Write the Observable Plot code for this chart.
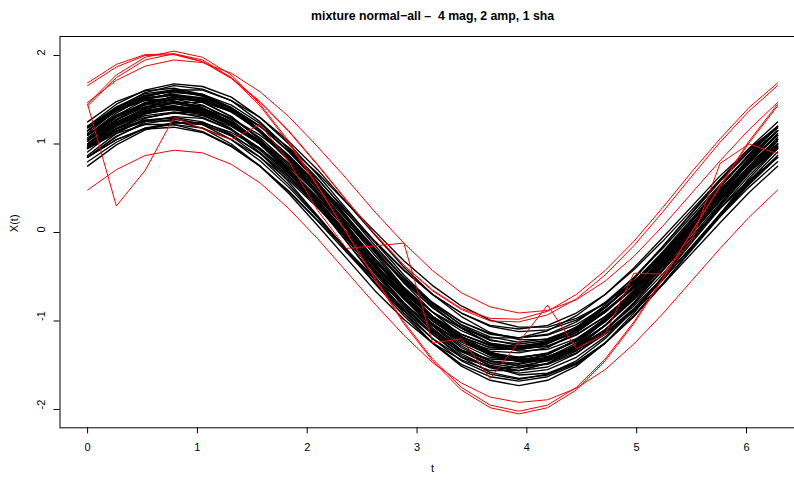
<!DOCTYPE html>
<html><head><meta charset="utf-8">
<script src="https://cdn.jsdelivr.net/npm/d3@7"></script>
<script src="https://cdn.jsdelivr.net/npm/@observablehq/plot@0.6"></script>
<style>html,body{margin:0;padding:0;overflow:hidden;background:#fff;width:794px;height:481px}#chart{width:794px;height:481px;overflow:hidden}#chart svg{max-width:none !important}</style>
</head><body><div id="chart"></div>
<script>
const titleText = "mixture normal\u2212all \u2013  4 mag, 2 amp, 1 sha";
const axisLabelX = "t";
const axisLabelY = "X(t)";
const xTicks = [0, 1, 2, 3, 4, 5, 6];
const yTicks = [-2, -1, 0, 1, 2];
const yTickLabels = ["-2", "-1", "0", "1", "2"];
const tValues = [0, 0.2618, 0.5236, 0.7854, 1.0472, 1.3090, 1.5708, 1.8326, 2.0944, 2.3562, 2.6180, 2.8798, 3.1416, 3.4034, 3.6652, 3.9270, 4.1888, 4.4506, 4.7124, 4.9742, 5.2360, 5.4978, 5.7596, 6.0214, 6.2832];

const normalCurves = [
[1.00,1.22,1.37,1.41,1.37,1.22,1.00,0.71,0.37,0.00,-0.37,-0.71,-1.00,-1.22,-1.37,-1.41,-1.37,-1.22,-1.00,-0.71,-0.37,0.00,0.37,0.71,1.00],
[1.05,1.30,1.46,1.53,1.50,1.38,1.15,0.85,0.50,0.12,-0.26,-0.63,-0.95,-1.20,-1.36,-1.43,-1.40,-1.28,-1.05,-0.75,-0.40,-0.02,0.36,0.73,1.05],
[1.05,1.25,1.37,1.39,1.33,1.17,0.95,0.66,0.33,-0.02,-0.37,-0.68,-0.95,-1.15,-1.27,-1.29,-1.23,-1.07,-0.85,-0.56,-0.23,0.12,0.47,0.78,1.05],
[1.00,1.25,1.40,1.46,1.40,1.25,1.00,0.68,0.30,-0.10,-0.50,-0.88,-1.20,-1.45,-1.60,-1.66,-1.60,-1.45,-1.20,-0.88,-0.50,-0.10,0.30,0.68,1.00],
[1.00,1.21,1.36,1.42,1.40,1.29,1.10,0.85,0.55,0.22,-0.11,-0.43,-0.70,-0.91,-1.06,-1.12,-1.10,-0.99,-0.80,-0.55,-0.25,0.08,0.41,0.73,1.00],
[1.25,1.48,1.60,1.63,1.56,1.40,1.15,0.83,0.46,0.08,-0.30,-0.65,-0.95,-1.18,-1.30,-1.33,-1.26,-1.10,-0.85,-0.53,-0.16,0.22,0.60,0.95,1.25],
[0.75,0.99,1.16,1.24,1.24,1.13,0.95,0.69,0.39,0.04,-0.31,-0.65,-0.95,-1.19,-1.36,-1.44,-1.44,-1.33,-1.15,-0.89,-0.59,-0.24,0.11,0.45,0.75],
[1.15,1.41,1.58,1.66,1.62,1.49,1.25,0.94,0.57,0.17,-0.23,-0.62,-0.95,-1.21,-1.38,-1.46,-1.42,-1.29,-1.05,-0.74,-0.37,0.03,0.43,0.82,1.15],
[0.95,1.12,1.22,1.22,1.14,0.98,0.75,0.47,0.14,-0.19,-0.52,-0.81,-1.05,-1.22,-1.32,-1.32,-1.24,-1.08,-0.85,-0.57,-0.24,0.09,0.42,0.71,0.95],
[1.10,1.35,1.53,1.61,1.61,1.49,1.30,1.03,0.71,0.34,-0.03,-0.39,-0.70,-0.95,-1.13,-1.21,-1.21,-1.09,-0.90,-0.63,-0.31,0.06,0.43,0.79,1.10],
[0.95,1.14,1.26,1.26,1.18,1.00,0.75,0.44,0.08,-0.29,-0.66,-0.98,-1.25,-1.44,-1.56,-1.56,-1.48,-1.30,-1.05,-0.74,-0.38,-0.01,0.36,0.68,0.95],
[0.85,1.09,1.23,1.28,1.23,1.09,0.85,0.54,0.18,-0.20,-0.58,-0.94,-1.25,-1.49,-1.63,-1.68,-1.63,-1.49,-1.25,-0.94,-0.58,-0.20,0.18,0.54,0.85],
[1.20,1.41,1.55,1.59,1.55,1.41,1.20,0.92,0.60,0.25,-0.10,-0.42,-0.70,-0.91,-1.05,-1.09,-1.05,-0.91,-0.70,-0.42,-0.10,0.25,0.60,0.92,1.20],
[1.15,1.39,1.52,1.56,1.48,1.31,1.05,0.72,0.33,-0.07,-0.47,-0.84,-1.15,-1.39,-1.52,-1.56,-1.48,-1.31,-1.05,-0.72,-0.33,0.07,0.47,0.84,1.15],
[0.85,1.05,1.18,1.22,1.18,1.05,0.85,0.59,0.28,-0.05,-0.38,-0.69,-0.95,-1.15,-1.28,-1.32,-1.28,-1.15,-0.95,-0.69,-0.38,-0.05,0.28,0.59,0.85],
[1.05,1.28,1.45,1.51,1.49,1.36,1.15,0.87,0.54,0.17,-0.20,-0.55,-0.85,-1.08,-1.25,-1.31,-1.29,-1.16,-0.95,-0.67,-0.34,0.03,0.40,0.75,1.05],
[1.10,1.31,1.42,1.43,1.34,1.17,0.90,0.57,0.19,-0.19,-0.57,-0.91,-1.20,-1.41,-1.52,-1.53,-1.44,-1.27,-1.00,-0.67,-0.29,0.09,0.47,0.81,1.10],
[0.80,1.02,1.18,1.24,1.22,1.10,0.90,0.63,0.32,-0.03,-0.38,-0.71,-1.00,-1.22,-1.38,-1.44,-1.42,-1.30,-1.10,-0.83,-0.52,-0.17,0.18,0.51,0.80],
[0.95,1.23,1.41,1.51,1.49,1.37,1.15,0.85,0.49,0.09,-0.31,-0.71,-1.05,-1.33,-1.51,-1.61,-1.59,-1.47,-1.25,-0.95,-0.59,-0.19,0.21,0.61,0.95],
[1.10,1.31,1.44,1.46,1.40,1.23,1.00,0.70,0.35,-0.02,-0.39,-0.72,-1.00,-1.21,-1.34,-1.36,-1.30,-1.13,-0.90,-0.60,-0.25,0.12,0.49,0.82,1.10],
[1.00,1.23,1.39,1.47,1.47,1.37,1.20,0.96,0.67,0.34,0.01,-0.32,-0.60,-0.83,-0.99,-1.07,-1.07,-0.97,-0.80,-0.56,-0.27,0.06,0.39,0.72,1.00],
[1.05,1.31,1.47,1.53,1.47,1.31,1.05,0.71,0.32,-0.10,-0.52,-0.91,-1.25,-1.51,-1.67,-1.73,-1.67,-1.51,-1.25,-0.91,-0.52,-0.10,0.32,0.71,1.05],
[1.20,1.45,1.61,1.68,1.65,1.53,1.30,1.00,0.65,0.27,-0.11,-0.48,-0.80,-1.05,-1.21,-1.28,-1.25,-1.13,-0.90,-0.60,-0.25,0.13,0.51,0.88,1.20],
[0.85,1.05,1.17,1.19,1.13,0.97,0.75,0.46,0.13,-0.22,-0.57,-0.88,-1.15,-1.35,-1.47,-1.49,-1.43,-1.27,-1.05,-0.76,-0.43,-0.08,0.27,0.58,0.85],
[1.15,1.37,1.52,1.56,1.52,1.37,1.15,0.86,0.52,0.15,-0.22,-0.56,-0.85,-1.07,-1.22,-1.26,-1.22,-1.07,-0.85,-0.56,-0.22,0.15,0.52,0.86,1.15],
[1.00,1.24,1.38,1.43,1.38,1.24,1.00,0.69,0.33,-0.05,-0.43,-0.79,-1.10,-1.34,-1.48,-1.53,-1.48,-1.34,-1.10,-0.79,-0.43,-0.05,0.33,0.69,1.00],
[1.00,1.21,1.35,1.39,1.35,1.21,1.00,0.72,0.40,0.05,-0.30,-0.62,-0.90,-1.11,-1.25,-1.29,-1.25,-1.11,-0.90,-0.62,-0.30,0.05,0.40,0.72,1.00],
[1.15,1.40,1.55,1.61,1.55,1.40,1.15,0.83,0.45,0.05,-0.35,-0.73,-1.05,-1.30,-1.45,-1.51,-1.45,-1.30,-1.05,-0.73,-0.35,0.05,0.45,0.83,1.15],
[0.85,1.08,1.25,1.31,1.29,1.16,0.95,0.67,0.34,-0.03,-0.40,-0.75,-1.05,-1.28,-1.45,-1.51,-1.49,-1.36,-1.15,-0.87,-0.54,-0.17,0.20,0.55,0.85],
[1.10,1.33,1.45,1.48,1.41,1.25,1.00,0.68,0.31,-0.07,-0.45,-0.80,-1.10,-1.33,-1.45,-1.48,-1.41,-1.25,-1.00,-0.68,-0.31,0.07,0.45,0.80,1.10],
[1.03,1.27,1.42,1.47,1.43,1.29,1.07,0.78,0.43,0.06,-0.32,-0.67,-0.97,-1.21,-1.36,-1.41,-1.37,-1.23,-1.01,-0.72,-0.37,0.00,0.38,0.73,1.03],
[0.97,1.18,1.32,1.36,1.30,1.16,0.93,0.64,0.30,-0.06,-0.42,-0.75,-1.03,-1.24,-1.38,-1.42,-1.36,-1.22,-0.99,-0.70,-0.36,0.00,0.36,0.69,0.97],
[1.07,1.32,1.50,1.58,1.56,1.44,1.23,0.95,0.61,0.23,-0.15,-0.51,-0.83,-1.08,-1.26,-1.34,-1.32,-1.20,-0.99,-0.71,-0.37,0.01,0.39,0.75,1.07],
[0.97,1.17,1.27,1.29,1.22,1.05,0.81,0.51,0.17,-0.19,-0.54,-0.86,-1.13,-1.33,-1.43,-1.45,-1.38,-1.21,-0.97,-0.67,-0.33,0.03,0.38,0.70,0.97],
[1.19,1.42,1.57,1.61,1.54,1.38,1.13,0.81,0.43,0.04,-0.36,-0.72,-1.03,-1.26,-1.41,-1.45,-1.38,-1.22,-0.97,-0.65,-0.27,0.12,0.52,0.88,1.19],
[0.98,1.20,1.34,1.40,1.36,1.24,1.04,0.78,0.46,0.12,-0.22,-0.54,-0.82,-1.04,-1.18,-1.24,-1.20,-1.08,-0.88,-0.62,-0.30,0.04,0.38,0.70,0.98],
[0.96,1.21,1.37,1.43,1.39,1.25,1.02,0.71,0.35,-0.04,-0.43,-0.80,-1.12,-1.37,-1.53,-1.59,-1.55,-1.41,-1.18,-0.87,-0.51,-0.12,0.27,0.64,0.96],
[0.95,1.15,1.27,1.30,1.25,1.11,0.89,0.61,0.30,-0.04,-0.38,-0.69,-0.95,-1.15,-1.27,-1.30,-1.25,-1.11,-0.89,-0.61,-0.30,0.04,0.38,0.69,0.95],
[0.87,1.12,1.29,1.36,1.35,1.23,1.03,0.76,0.43,0.06,-0.31,-0.66,-0.97,-1.22,-1.39,-1.46,-1.45,-1.33,-1.13,-0.86,-0.53,-0.16,0.21,0.56,0.87],
[1.18,1.38,1.50,1.51,1.44,1.27,1.02,0.71,0.36,-0.01,-0.38,-0.71,-0.98,-1.18,-1.30,-1.31,-1.24,-1.07,-0.82,-0.51,-0.16,0.21,0.58,0.91,1.18],
[1.12,1.38,1.54,1.60,1.56,1.41,1.16,0.84,0.46,0.05,-0.36,-0.75,-1.08,-1.34,-1.50,-1.56,-1.52,-1.37,-1.12,-0.80,-0.42,-0.01,0.40,0.79,1.12],
[0.96,1.17,1.30,1.35,1.32,1.20,1.00,0.74,0.44,0.11,-0.22,-0.53,-0.80,-1.01,-1.14,-1.19,-1.16,-1.04,-0.84,-0.58,-0.28,0.05,0.38,0.69,0.96],
[1.00,1.27,1.45,1.54,1.52,1.41,1.20,0.91,0.57,0.19,-0.20,-0.57,-0.90,-1.17,-1.35,-1.44,-1.42,-1.31,-1.10,-0.81,-0.47,-0.09,0.30,0.67,1.00],
[1.20,1.38,1.49,1.49,1.41,1.24,1.00,0.70,0.36,0.01,-0.34,-0.64,-0.90,-1.08,-1.19,-1.19,-1.11,-0.94,-0.70,-0.40,-0.06,0.29,0.64,0.94,1.20],
[0.91,1.17,1.34,1.41,1.37,1.24,1.01,0.71,0.34,-0.05,-0.45,-0.82,-1.15,-1.41,-1.58,-1.65,-1.61,-1.48,-1.25,-0.95,-0.58,-0.19,0.21,0.58,0.91],
[1.15,1.37,1.51,1.55,1.51,1.37,1.15,0.87,0.54,0.18,-0.18,-0.51,-0.79,-1.01,-1.15,-1.19,-1.15,-1.01,-0.79,-0.51,-0.18,0.18,0.54,0.87,1.15]
];

const magOutliers = [
[1.69,1.90,2.01,2.02,1.93,1.74,1.47,1.14,0.76,0.36,-0.02,-0.37,-0.65,-0.86,-0.97,-0.98,-0.89,-0.70,-0.43,-0.10,0.28,0.68,1.06,1.41,1.69],
[1.66,1.87,2.00,2.01,1.93,1.75,1.48,1.15,0.77,0.37,-0.02,-0.37,-0.66,-0.87,-1.00,-1.01,-0.93,-0.75,-0.48,-0.15,0.23,0.63,1.02,1.37,1.66],
[1.47,1.72,1.88,1.95,1.92,1.80,1.59,1.31,0.97,0.61,0.23,-0.12,-0.43,-0.68,-0.84,-0.91,-0.88,-0.76,-0.55,-0.27,0.07,0.44,0.81,1.16,1.47],
[0.48,0.71,0.87,0.93,0.90,0.77,0.56,0.27,-0.07,-0.44,-0.81,-1.16,-1.47,-1.70,-1.86,-1.92,-1.89,-1.76,-1.55,-1.26,-0.92,-0.55,-0.18,0.17,0.48]
];
const ampOutliers = [
[1.45,1.78,1.98,2.05,1.98,1.78,1.45,1.03,0.53,0.00,-0.53,-1.03,-1.45,-1.78,-1.98,-2.05,-1.98,-1.78,-1.45,-1.03,-0.53,0.00,0.53,1.03,1.45],
[1.43,1.75,1.95,2.02,1.95,1.75,1.43,1.01,0.52,0.00,-0.52,-1.01,-1.43,-1.75,-1.95,-2.02,-1.95,-1.75,-1.43,-1.01,-0.52,0.00,0.52,1.01,1.43]
];
const shapeOutliers = [
[1.45,0.30,0.70,1.30,1.17,1.05,1.22,0.80,0.25,-0.18,-0.15,-0.12,-1.25,-1.20,-1.65,-1.24,-0.82,-1.31,-1.15,-0.46,-0.47,-0.10,0.78,1.00,0.89]
];

function toRows(curves, prefix) {
  const out = [];
  curves.forEach((c, i) => c.forEach((v, k) => out.push({t: tValues[k], x: v, id: prefix + i})));
  return out;
}
const normalRows = toRows(normalCurves, "n");
const outlierRows = [...toRows(magOutliers, "m"), ...toRows(ampOutliers, "a"), ...toRows(shapeOutliers, "s")];

const chart = Plot.plot({
  width: 810, height: 481,
  marginLeft: 59.5, marginRight: 5.3, marginTop: 36, marginBottom: 53.7,
  style: {fontFamily: "'Liberation Sans', Arial, Helvetica, sans-serif", fontSize: "11px", background: "white", color: "black", maxWidth: "none"},
  x: {domain: [-0.2513, 6.5345], label: null},
  y: {domain: [-2.207, 2.215], label: null},
  marks: [
    Plot.line(normalRows, {x: "t", y: "x", z: "id", stroke: "black", strokeWidth: 1.35}),
    Plot.line(outlierRows, {x: "t", y: "x", z: "id", stroke: "#ff0000", strokeWidth: 1}),
    Plot.frame({stroke: "black"}),
    Plot.axisX(xTicks, {tickSize: 6, tickPadding: 9.4, fontSize: 11, label: null}),
    Plot.axisY(yTicks, {tickSize: 6, tickFormat: () => "", label: null}),
    Plot.text(yTickLabels, {y: (d, i) => yTicks[i], frameAnchor: "left", dx: -18.3, rotate: -90, fontSize: 11}),
    Plot.text([axisLabelY], {frameAnchor: "left", dx: -45.5, rotate: -90, fontSize: 11}),
    Plot.text([axisLabelX], {frameAnchor: "bottom", dy: 44.4, fontSize: 11}),
    Plot.text([titleText], {frameAnchor: "top", dy: -25, fontWeight: "bold", fontSize: 12.3})
  ]
});
chart.style.maxWidth = "none";
document.getElementById("chart").appendChild(chart);
</script>
</body></html>
